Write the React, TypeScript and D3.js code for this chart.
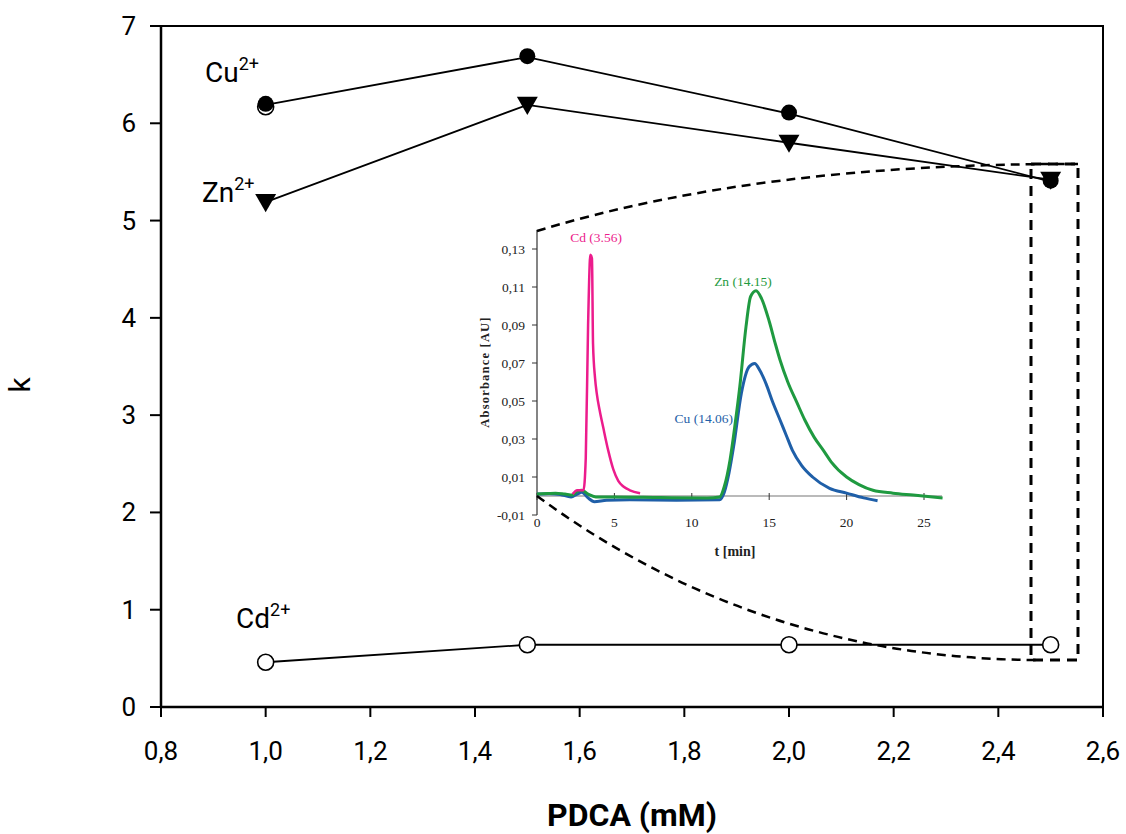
import React from 'react';
import * as d3 from 'd3';

// main chart data
const pdca = [1.0, 1.5, 2.0, 2.5];
const kCu = [6.19, 6.68, 6.1, 5.4];
const kZn = [5.19, 6.19, 5.8, 5.42];
const kCd = [0.46, 0.64, 0.64, 0.64];
const xTicks = [0.8, 1.0, 1.2, 1.4, 1.6, 1.8, 2.0, 2.2, 2.4, 2.6];
const yTicks = [0, 1, 2, 3, 4, 5, 6, 7];

// inset chromatogram traces [t (min), absorbance]
const cdTrace: [number, number][] = [
  [2.3, 0.001], [2.6, 0.003], [3.0, 0.003], [3.15, 0.02], [3.3, 0.09], [3.45, 0.127],
  [3.55, 0.125], [3.62, 0.08], [3.75, 0.062], [3.86, 0.054], [4.05, 0.045], [4.28, 0.036],
  [4.6, 0.024], [4.93, 0.014], [5.25, 0.008], [5.58, 0.005], [6.0, 0.003], [6.66, 0.0015],
];
const znTrace: [number, number][] = [
  [0, 0.001], [0.7, 0.0013], [1.2, 0.0015], [1.8, 0.001], [2.3, 0.0005], [2.6, 0.0025],
  [2.9, 0.003], [3.3, 0.001], [3.8, -0.0005], [5, -0.0005], [8, -0.0008], [11, -0.001],
  [11.8, -0.0005], [12.1, 0.005], [12.47, 0.019], [12.8, 0.038], [13.1, 0.0575], [13.5, 0.089],
  [13.8, 0.105], [14.15, 0.108], [14.5, 0.104], [15.0, 0.092], [15.4, 0.08], [15.7, 0.0716],
  [16.2, 0.06], [16.8, 0.049], [17.3, 0.04], [17.9, 0.031], [18.5, 0.024], [19.0, 0.018],
  [20.0, 0.01], [20.8, 0.006], [21.7, 0.003], [23, 0.0015], [24.3, 0.0005], [26.2, -0.001],
];
const cuTrace: [number, number][] = [
  [0, 0.001], [0.8, 0.0012], [1.5, 0.0008], [2.2, -0.0005], [2.6, 0.001], [2.9, 0.002],
  [3.3, -0.001], [3.7, -0.003], [4.5, -0.0022], [6, -0.002], [9, -0.0022], [11.8, -0.002],
  [12.1, 0.002], [12.4, 0.012], [12.7, 0.026], [13.2, 0.054], [13.7, 0.068], [14.06, 0.0698],
  [14.4, 0.066], [14.8, 0.059], [15.2, 0.05], [15.7, 0.04], [16.1, 0.032], [16.5, 0.024],
  [17.1, 0.016], [17.8, 0.01], [18.9, 0.004], [20.0, 0.0015], [21.1, -0.001], [22.0, -0.0025],
];
const insetXTicks = [0, 5, 10, 15, 20, 25];
const insetYTicks = [-0.01, 0.01, 0.03, 0.05, 0.07, 0.09, 0.11, 0.13];

const SANS = '"Liberation Sans Narrow", "Roboto", "Liberation Sans", sans-serif';
const SERIF = '"Liberation Serif", "DejaVu Serif", serif';
const PINK = '#ec1c8c';
const GREEN = '#1f9a40';
const BLUE = '#1f5fa8';

const fmt = (v: number, d: number) => v.toFixed(d).replace('.', ',');

export default function App() {
  const x = d3.scaleLinear().domain([0.8, 2.6]).range([161, 1103]);
  const y = d3.scaleLinear().domain([0, 7]).range([707, 26]);

  const line = d3.line<number>().x((_, i) => x(pdca[i])).y(d => y(d));

  const ix = d3.scaleLinear().domain([0, 25]).range([537, 924]);
  const iy = d3.scaleLinear().domain([-0.01, 0.13]).range([515, 249]);
  const trace = d3.line<[number, number]>()
    .x(d => ix(d[0]))
    .y(d => iy(d[1]))
    .curve(d3.curveMonotoneX);

  const tri = d3.symbol().type(d3.symbolTriangle).size(190)();

  return (
    <div style={{ position: 'absolute', left: 0, top: 0 }}>
      <svg width={1126} height={834} style={{ display: 'block', background: '#fff' }}>
        {/* frame */}
        <rect x={161} y={26} width={942} height={681} fill="none" stroke="#000" strokeWidth={2} />
        <line x1={161} x2={161} y1={26} y2={707} stroke="#000" strokeWidth={2.5} />
        <line x1={161} x2={1103} y1={707} y2={707} stroke="#000" strokeWidth={2.5} />

        {/* y axis */}
        {yTicks.map(t => (
          <g key={'y' + t}>
            <line x1={150} x2={161} y1={y(t)} y2={y(t)} stroke="#000" strokeWidth={2} />
            <text x={136} y={y(t) + 9} textAnchor="end" fontFamily={SANS} fontSize={26}>{t}</text>
          </g>
        ))}
        {/* x axis */}
        {xTicks.map(t => (
          <g key={'x' + t}>
            <line x1={x(t)} x2={x(t)} y1={707} y2={717} stroke="#000" strokeWidth={2} />
            <text x={x(t)} y={760} textAnchor="middle" fontFamily={SANS} fontSize={26}>{fmt(t, 1)}</text>
          </g>
        ))}
        <text x={632} y={826} textAnchor="middle" fontFamily={SANS} fontSize={32} fontWeight="bold">PDCA (mM)</text>
        <text transform="translate(30,385) rotate(-90)" textAnchor="middle" fontFamily={SANS} fontSize={30}>k</text>

        {/* series lines */}
        <path d={line(kCd) || ''} fill="none" stroke="#000" strokeWidth={1.8} />
        <path d={line(kZn) || ''} fill="none" stroke="#000" strokeWidth={1.8} />
        <path d={line(kCu) || ''} fill="none" stroke="#000" strokeWidth={1.8} />

        {/* inset */}
        <g>
          <line x1={537} x2={537} y1={230} y2={515} stroke="#333" strokeWidth={1.2} />
          <line x1={537} x2={942} y1={iy(0)} y2={iy(0)} stroke="#777" strokeWidth={1.2} />
          {insetYTicks.map(t => (
            <g key={'iy' + t}>
              <line x1={532} x2={537} y1={iy(t)} y2={iy(t)} stroke="#333" strokeWidth={1} />
              <text x={525} y={iy(t) + 4.5} textAnchor="end" fontFamily={SERIF} fontSize={13.5} fill="#222">{fmt(t, 2)}</text>
            </g>
          ))}
          {insetXTicks.map(t => (
            <g key={'ix' + t}>
              <line x1={ix(t)} x2={ix(t)} y1={iy(0) - 3} y2={iy(0) + 4} stroke="#333" strokeWidth={1} />
              <text x={ix(t)} y={527} textAnchor="middle" fontFamily={SERIF} fontSize={13.5} fill="#222">{t}</text>
            </g>
          ))}
          <text x={735} y={556} textAnchor="middle" fontFamily={SERIF} fontSize={14} fontWeight="bold" fill="#222">t [min]</text>
          <text transform="translate(489,372) rotate(-90)" textAnchor="middle" fontFamily={SERIF} fontSize={12.5} fontWeight="bold" letterSpacing={1.2} fill="#222">Absorbance [AU]</text>

          <path d={trace(cuTrace) || ''} fill="none" stroke={BLUE} strokeWidth={3} />
          <path d={trace(znTrace) || ''} fill="none" stroke={GREEN} strokeWidth={3} />
          <path d={trace(cdTrace) || ''} fill="none" stroke={PINK} strokeWidth={2.5} />

          <text x={596} y={242} textAnchor="middle" fontFamily={SERIF} fontSize={13.5} fill={PINK}>Cd (3.56)</text>
          <text x={743} y={286} textAnchor="middle" fontFamily={SERIF} fontSize={13.5} fill={GREEN}>Zn (14.15)</text>
          <text x={733} y={423} textAnchor="end" fontFamily={SERIF} fontSize={13.5} fill={BLUE}>Cu (14.06)</text>
        </g>

        {/* zoom guides */}
        <path d="M537,231 Q760,163 1078,164" fill="none" stroke="#000" strokeWidth={2.5} strokeDasharray="9,6" />
        <path d="M537,496 Q760,660 1040,660" fill="none" stroke="#000" strokeWidth={2.5} strokeDasharray="9,6" />
        <rect x={1031} y={164} width={47} height={496} fill="none" stroke="#000" strokeWidth={3} strokeDasharray="10,7" />

        {/* markers */}
        {kCd.map((v, i) => (
          <circle key={'cd' + i} cx={x(pdca[i])} cy={y(v)} r={8} fill="#fff" stroke="#000" strokeWidth={1.6} />
        ))}
        <circle cx={x(1.0)} cy={y(6.17)} r={8} fill="#fff" stroke="#000" strokeWidth={1.6} />
        {kZn.map((v, i) => (
          <path key={'zn' + i} d={tri || ''} transform={`translate(${x(pdca[i])},${y(v) - 2}) rotate(180)`} fill="#000" />
        ))}
        {kCu.map((v, i) => (
          <circle key={'cu' + i} cx={x(pdca[i])} cy={y(v) - 1} r={8} fill="#000" />
        ))}

        {/* ion labels */}
        <text x={205} y={82} fontFamily={SANS} fontSize={28}>Cu<tspan dy={-12} fontSize={18}>2+</tspan></text>
        <text x={202} y={202} fontFamily={SANS} fontSize={28}>Zn<tspan dy={-12} fontSize={18}>2+</tspan></text>
        <text x={236} y={628} fontFamily={SANS} fontSize={28}>Cd<tspan dy={-12} fontSize={18}>2+</tspan></text>
      </svg>
    </div>
  );
}
